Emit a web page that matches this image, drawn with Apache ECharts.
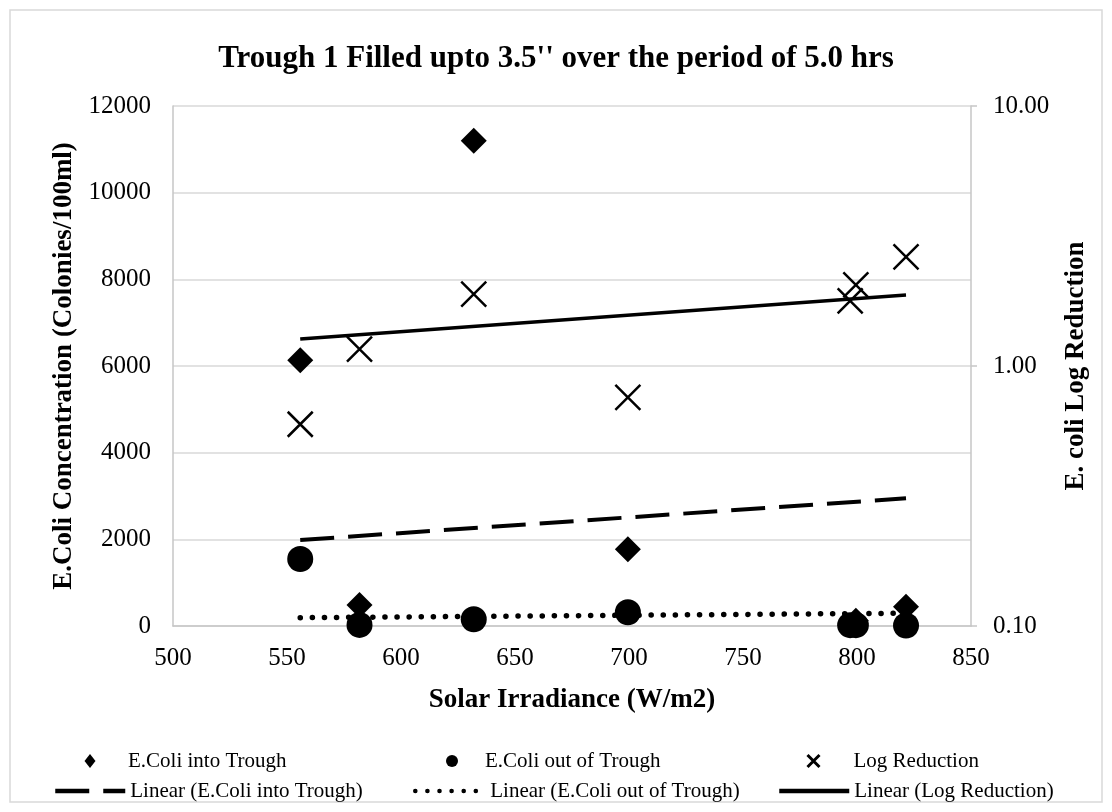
<!DOCTYPE html>
<html><head><meta charset="utf-8">
<script src="https://cdn.jsdelivr.net/npm/echarts@6/dist/echarts.min.js"></script>
<style>html,body{margin:0;padding:0;background:#fff}#c{width:1112px;height:812px}</style>
</head><body><div id="c"></div><script>
// ---- data ----
const irradiance = [555.8, 581.8, 631.9, 699.5, 797.0, 799.5, 821.5];
const ecoliIn = [6130, 485, 11200, 1770, null, 120, 445];
const ecoliOut = [1546, 25, 155, 316, 20, 20, 10];
const logReduction = [0.597, 1.16, 1.89, 0.758, 1.78, 2.05, 2.63];
// trendline end points (as drawn in the reference)
const trendX = [555.8, 821.5];
const trendIn = [1985, 2947];
const trendOut = [192, 295];
const trendLog = [1.27, 1.875];
// axis ticks
const xTicks = [500, 550, 600, 650, 700, 750, 800, 850];
const yLeftTicks = [0, 2000, 4000, 6000, 8000, 10000, 12000];
const yRightTicks = [0.1, 1, 10];

const FONT = '"Liberation Serif", "Times New Roman", serif';
const pts = (xs, ys) => xs.map((x, i) => [x, ys[i]]).filter(p => p[1] != null);
const X_PATH = 'path://M0,0L20,20M20,0L0,20';

const chart = echarts.init(document.getElementById('c'), null, {renderer: 'canvas'});

// legend layout: icon box left, icon size, extra text padding
const legendDefs = [
  {name: 'E.Coli into Trough', left: 84.5, c: 757, w: 11, pad: 27.5},
  {name: 'E.Coli out of Trough', left: 446, c: 757, w: 12, pad: 22},
  {name: 'Log Reduction', left: 806, c: 757, w: 12, pad: 29, x: true},
  {name: 'Linear (E.Coli into Trough)', left: 53, c: 787, w: 70, pad: 0, line: true},
  {name: 'Linear (E.Coli out of Trough)', left: 413, c: 787, w: 70, pad: 0, line: true},
  {name: 'Linear (Log Reduction)', left: 777, c: 787, w: 70, pad: 0, line: true}
];
const legends = legendDefs.map(d => ({
  data: [d.name],
  left: d.left, top: d.c - 7,
  orient: 'horizontal', padding: 0,
  itemWidth: d.w, itemHeight: 14,
  selectedMode: false,
  formatter: n => '{t|' + n + '}',
  textStyle: {fontFamily: FONT, fontSize: 21, color: '#000', lineHeight: 22,
    rich: {t: {fontFamily: FONT, fontSize: 21, color: '#000', lineHeight: 22, padding: [0, 0, 0, d.pad]}}},
  itemStyle: d.line ? {opacity: 0} : (d.x ? {borderWidth: 3, opacity: 1} : {opacity: 1}),
  lineStyle: d.line ? {width: 4.5} : undefined
}));

const axisLineGray = '#c6c6c6';
const gridGray = '#d9d9d9';

chart.setOption({
  animation: false,
  backgroundColor: '#fff',
  title: {
    text: 'Trough 1 Filled upto 3.5\'\' over the period of 5.0 hrs',
    left: 'center', top: 38,
    textStyle: {fontFamily: FONT, fontSize: 31, fontWeight: 'bold', color: '#000'}
  },
  graphic: [{
    type: 'rect', shape: {x: 10, y: 10, width: 1092, height: 792},
    style: {fill: 'none', stroke: '#d9d9d9', lineWidth: 1.5}, silent: true, z: -1
  }],
  legend: legends,
  grid: {left: 173, right: 141, top: 106, bottom: 186, containLabel: false},
  xAxis: {
    type: 'value',
    min: xTicks[0], max: xTicks[xTicks.length - 1], interval: xTicks[1] - xTicks[0],
    name: 'Solar Irradiance (W/m2)', nameLocation: 'middle', nameGap: 61,
    nameTextStyle: {fontFamily: FONT, fontSize: 27, fontWeight: 'bold', color: '#000'},
    axisLine: {show: true, lineStyle: {color: axisLineGray, width: 1.5}},
    axisTick: {show: false},
    splitLine: {show: false},
    axisLabel: {fontFamily: FONT, fontSize: 25, color: '#000', margin: 20, formatter: v => String(v)}
  },
  yAxis: [{
    type: 'value',
    min: yLeftTicks[0], max: yLeftTicks[yLeftTicks.length - 1], interval: yLeftTicks[1] - yLeftTicks[0],
    name: 'E.Coli Concentration (Colonies/100ml)', nameLocation: 'middle', nameGap: 94, nameRotate: 90,
    nameTextStyle: {fontFamily: FONT, fontSize: 27, fontWeight: 'bold', color: '#000'},
    axisLine: {show: true, lineStyle: {color: axisLineGray, width: 1.5}},
    axisTick: {show: false},
    splitLine: {show: true, lineStyle: {color: gridGray, width: 1.5}},
    axisLabel: {fontFamily: FONT, fontSize: 25, color: '#000', margin: 22, formatter: v => String(v)}
  }, {
    type: 'log', logBase: 10,
    min: yRightTicks[0], max: yRightTicks[yRightTicks.length - 1],
    position: 'right',
    name: 'E. coli Log Reduction', nameLocation: 'middle', nameGap: 92, nameRotate: 90,
    nameTextStyle: {fontFamily: FONT, fontSize: 27, fontWeight: 'bold', color: '#000'},
    axisLine: {show: true, lineStyle: {color: axisLineGray, width: 1.5}},
    axisTick: {show: true, length: 6, lineStyle: {color: axisLineGray, width: 1.5}},
    splitLine: {show: false},
    axisLabel: {fontFamily: FONT, fontSize: 25, color: '#000', margin: 22,
      formatter: v => Number(v).toFixed(2)}
  }],
  series: [{
    name: 'E.Coli into Trough', type: 'scatter', symbol: 'diamond', symbolSize: 26,
    itemStyle: {color: '#000', opacity: 1}, data: pts(irradiance, ecoliIn), z: 3
  }, {
    name: 'E.Coli out of Trough', type: 'scatter', symbol: 'circle', symbolSize: 26,
    itemStyle: {color: '#000', opacity: 1}, data: pts(irradiance, ecoliOut), z: 3
  }, {
    name: 'Log Reduction', type: 'scatter', symbol: X_PATH, symbolSize: 25, yAxisIndex: 1,
    itemStyle: {color: '#000', borderColor: '#000', borderWidth: 2.5, opacity: 1},
    data: pts(irradiance, logReduction), z: 3
  }, {
    name: 'Linear (E.Coli into Trough)', type: 'line', symbol: 'none',
    lineStyle: {color: '#000', width: 4, type: [34, 14], cap: 'butt'},
    itemStyle: {color: '#000'}, data: pts(trendX, trendIn), z: 4
  }, {
    name: 'Linear (E.Coli out of Trough)', type: 'line', symbol: 'none',
    lineStyle: {color: '#000', width: 5.5, type: [0.1, 12], cap: 'round'},
    itemStyle: {color: '#000'}, data: pts(trendX, trendOut), z: 4
  }, {
    name: 'Linear (Log Reduction)', type: 'line', symbol: 'none', yAxisIndex: 1,
    lineStyle: {color: '#000', width: 3.5},
    itemStyle: {color: '#000'}, data: pts(trendX, trendLog), z: 4
  }]
});
</script></body></html>
